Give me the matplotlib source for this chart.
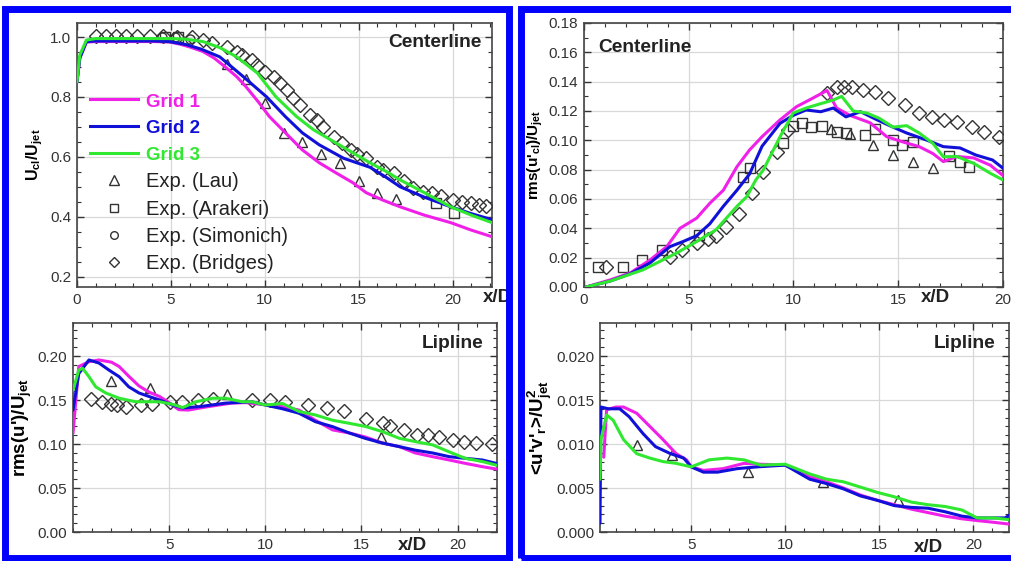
import matplotlib
matplotlib.use("Agg")
import matplotlib.pyplot as plt
from matplotlib.patches import Rectangle
from matplotlib.ticker import MultipleLocator, FixedLocator
from matplotlib.lines import Line2D

plt.rcParams['font.family'] = ['Liberation Sans', 'DejaVu Sans']
plt.rcParams['mathtext.fontset'] = 'custom'
plt.rcParams['mathtext.rm'] = 'Liberation Sans'
plt.rcParams['mathtext.bf'] = 'Liberation Sans:bold'
plt.rcParams['mathtext.it'] = 'Liberation Sans:italic'

C1, C2, C3 = '#f020e8', '#1010d8', '#30e830'
MK = '#333333'

# ---------------- Top-left: centerline mean velocity ----------------
tl_g1_x = [0, 0.15, 0.5, 1, 2, 3, 4, 4.9, 5.5, 6.0, 6.7, 7.3, 7.9, 8.5, 9.0, 9.7, 10.25, 11.1, 12.0, 12.9, 13.8, 14.7, 15.4, 16.3, 17.2, 18.5, 19.9, 21.0, 22.1]
tl_g1_y = [0.85, 0.93, 0.983, 0.985, 0.985, 0.985, 0.985, 0.984, 0.976, 0.967, 0.952, 0.93, 0.90, 0.868, 0.834, 0.78, 0.734, 0.68, 0.623, 0.58, 0.546, 0.513, 0.48, 0.455, 0.433, 0.405, 0.38, 0.355, 0.333]
tl_g2_x = [0, 0.15, 0.5, 1, 2, 3, 4, 4.9, 5.8, 6.6, 7.6, 8.85, 10.1, 11.1, 12.0, 12.9, 14.2, 15.6, 16.5, 17.2, 18.5, 19.9, 21.0, 22.1]
tl_g2_y = [0.85, 0.93, 0.985, 0.987, 0.987, 0.987, 0.987, 0.985, 0.975, 0.96, 0.934, 0.868, 0.80, 0.734, 0.68, 0.64, 0.595, 0.565, 0.53, 0.50, 0.465, 0.433, 0.41, 0.39]
tl_g3_x = [0, 0.15, 0.5, 1, 2, 3, 4, 5, 5.8, 6.7, 7.6, 8.5, 9.6, 10.6, 11.7, 12.6, 13.8, 15.6, 16.5, 17.2, 18.5, 19.9, 21.0, 22.1]
tl_g3_y = [0.85, 0.94, 0.99, 0.995, 0.995, 0.995, 0.995, 0.995, 0.993, 0.985, 0.965, 0.934, 0.88, 0.80, 0.734, 0.69, 0.646, 0.58, 0.55, 0.523, 0.48, 0.433, 0.405, 0.38]
tl_lau_x = [8, 9, 10, 11, 12, 13, 14, 15, 16, 17]
tl_lau_y = [0.91, 0.86, 0.78, 0.68, 0.65, 0.61, 0.58, 0.52, 0.48, 0.46]
tl_ara_x = [4.7, 5.4, 19.1, 20.1]
tl_ara_y = [1.0, 1.0, 0.447, 0.413]
tl_sim_x = [4.5, 5.2, 6.0]
tl_sim_y = [1.0, 1.0, 0.995]
tl_bri_x = [1.0, 1.55, 2.1, 2.6, 3.2, 3.9, 4.6, 5.3, 6.1, 6.7, 7.2, 8.0, 8.5, 8.8, 9.3, 9.6, 10.0, 10.5, 10.8, 11.2, 11.5, 11.9, 12.4, 12.8, 13.1, 13.7, 14.1, 14.6, 14.9, 15.4, 16.0, 16.3, 16.9, 17.4, 17.9, 18.4, 18.9, 19.4, 20.0, 20.5, 21.0, 21.4, 21.8]
tl_bri_y = [1.005, 1.005, 1.005, 1.005, 1.005, 1.005, 1.005, 1.0, 1.0, 0.99, 0.98, 0.968, 0.95, 0.94, 0.923, 0.907, 0.884, 0.868, 0.847, 0.823, 0.797, 0.773, 0.74, 0.723, 0.70, 0.667, 0.646, 0.623, 0.61, 0.597, 0.567, 0.557, 0.547, 0.518, 0.497, 0.484, 0.48, 0.468, 0.457, 0.45, 0.447, 0.44, 0.434]

# ---------------- Top-right: centerline rms ----------------
tr_g1_x = [0.1, 1.24, 2.2, 3.15, 3.95, 4.58, 5.38, 6.0, 6.65, 7.3, 7.9, 8.5, 9.36, 10.15, 10.9, 11.6, 12.06, 12.7, 13.65, 14.45, 15.2, 16.0, 16.65, 17.15, 17.8, 18.6, 19.4, 20.0]
tr_g1_y = [0.0, 0.0048, 0.0095, 0.0184, 0.0275, 0.040, 0.047, 0.057, 0.066, 0.082, 0.0934, 0.1025, 0.114, 0.123, 0.1286, 0.134, 0.122, 0.117, 0.112, 0.1025, 0.099, 0.0957, 0.091, 0.0855, 0.089, 0.088, 0.083, 0.076]
tr_g2_x = [0.1, 1.24, 2.2, 3.15, 4.1, 4.73, 5.38, 6.0, 6.65, 7.3, 7.9, 8.5, 9.36, 9.98, 10.6, 11.3, 11.9, 12.5, 13.2, 14.0, 14.75, 15.4, 16.35, 17.15, 17.95, 18.7, 19.5, 20.0]
tr_g2_y = [0.0, 0.004, 0.009, 0.0164, 0.0275, 0.031, 0.035, 0.043, 0.055, 0.066, 0.077, 0.096, 0.1116, 0.117, 0.1207, 0.1195, 0.122, 0.116, 0.1195, 0.1139, 0.109, 0.105, 0.1002, 0.0957, 0.0948, 0.09, 0.0866, 0.081]
tr_g3_x = [0.1, 1.24, 2.8, 4.4, 5.38, 6.3, 7.3, 7.77, 8.2, 8.56, 9.36, 9.98, 10.6, 11.3, 11.9, 12.3, 12.85, 13.5, 14.1, 14.75, 15.4, 16.0, 16.65, 17.15, 17.8, 18.6, 19.4, 20.0]
tr_g3_y = [0.0, 0.004, 0.0116, 0.023, 0.031, 0.039, 0.055, 0.0616, 0.073, 0.0798, 0.1025, 0.1186, 0.122, 0.125, 0.1275, 0.130, 0.120, 0.1186, 0.115, 0.109, 0.110, 0.105, 0.098, 0.0888, 0.089, 0.0843, 0.0775, 0.073]
tr_lau_x = [11.8, 12.7, 13.8, 14.75, 15.7, 16.65]
tr_lau_y = [0.108, 0.104, 0.097, 0.090, 0.085, 0.081]
tr_ara_x = [0.67, 1.86, 2.75, 3.7, 5.5, 7.6, 7.9, 9.5, 9.98, 10.4, 10.85, 11.35, 12.06, 12.5, 13.4, 13.9, 14.75, 15.2, 15.7, 17.4, 17.95, 18.4]
tr_ara_y = [0.0139, 0.0139, 0.0184, 0.025, 0.0355, 0.075, 0.081, 0.098, 0.110, 0.1116, 0.109, 0.110, 0.106, 0.105, 0.1036, 0.108, 0.1002, 0.097, 0.099, 0.089, 0.0855, 0.082]
tr_bri_x = [1.05, 4.1, 4.7, 5.4, 5.9, 6.3, 6.8, 7.4, 8.0, 8.56, 9.2, 9.75, 11.6, 12.06, 12.4, 12.8, 13.3, 13.9, 14.5, 15.3, 16.0, 16.6, 17.2, 17.8, 18.5, 19.1, 19.8]
tr_bri_y = [0.0135, 0.0207, 0.025, 0.030, 0.033, 0.035, 0.041, 0.050, 0.064, 0.0786, 0.0923, 0.107, 0.132, 0.1366, 0.1366, 0.1366, 0.134, 0.133, 0.1286, 0.124, 0.1186, 0.116, 0.1139, 0.1127, 0.109, 0.106, 0.1025]

# ---------------- Bottom-left: lipline rms ----------------
bl_g1_x = [0, 0.3, 0.83, 1.35, 2.0, 2.4, 2.9, 3.43, 3.95, 4.5, 5.0, 5.5, 6.0, 6.9, 8.25, 9.0, 10.0, 10.9, 11.75, 12.6, 13.5, 14.37, 15.2, 16.1, 16.97, 17.8, 18.7, 19.57, 20.4, 21.3, 22.0]
bl_g1_y = [0.112, 0.188, 0.1935, 0.1955, 0.193, 0.188, 0.177, 0.166, 0.159, 0.154, 0.147, 0.139, 0.1386, 0.142, 0.1465, 0.147, 0.1445, 0.1424, 0.1386, 0.127, 0.116, 0.1125, 0.108, 0.101, 0.097, 0.0898, 0.0856, 0.0818, 0.078, 0.0742, 0.0716]
bl_g2_x = [0, 0.3, 0.83, 1.35, 1.87, 2.4, 2.9, 3.43, 3.95, 4.5, 5.2, 5.7, 6.6, 7.95, 9.3, 10.0, 10.9, 11.75, 12.6, 13.5, 14.37, 15.2, 16.1, 16.97, 17.8, 18.7, 19.57, 20.4, 21.3, 22.0]
bl_g2_y = [0.1386, 0.18, 0.1955, 0.192, 0.184, 0.1765, 0.165, 0.158, 0.154, 0.15, 0.144, 0.141, 0.1425, 0.1465, 0.148, 0.1443, 0.140, 0.135, 0.1254, 0.1197, 0.1125, 0.1064, 0.101, 0.097, 0.093, 0.0898, 0.0856, 0.0837, 0.0818, 0.078]
bl_g3_x = [0, 0.3, 0.5, 0.83, 1.18, 1.7, 2.4, 3.26, 4.5, 5.2, 5.7, 6.4, 7.26, 7.95, 8.8, 9.3, 10.0, 10.9, 11.75, 12.6, 13.5, 14.37, 15.2, 16.1, 16.97, 17.8, 18.7, 19.57, 20.4, 21.3, 22.0]
bl_g3_y = [0.161, 0.184, 0.186, 0.1765, 0.165, 0.158, 0.152, 0.148, 0.148, 0.145, 0.1414, 0.148, 0.152, 0.152, 0.148, 0.148, 0.1443, 0.146, 0.137, 0.133, 0.127, 0.1235, 0.12, 0.114, 0.1065, 0.1027, 0.099, 0.091, 0.0837, 0.080, 0.076]
bl_lau_x = [2, 4, 8, 16]
bl_lau_y = [0.172, 0.164, 0.157, 0.108]
bl_bri_x = [0.95, 1.52, 1.96, 2.3, 2.74, 3.55, 4.1, 5.05, 5.65, 6.5, 7.3, 9.3, 10.27, 11.05, 12.2, 13.2, 14.1, 15.25, 16.1, 16.5, 17.2, 17.9, 18.45, 19.05, 19.74, 20.35, 20.96, 21.8]
bl_bri_y = [0.151, 0.148, 0.146, 0.144, 0.1417, 0.144, 0.146, 0.148, 0.148, 0.15, 0.151, 0.15, 0.15, 0.148, 0.144, 0.1405, 0.137, 0.128, 0.1235, 0.12, 0.116, 0.11, 0.11, 0.108, 0.1045, 0.1026, 0.1015, 0.0996]

# ---------------- Bottom-right: lipline shear stress ----------------
br_g1_x = [0.35, 0.5, 1.0, 1.4, 2.1, 2.8, 3.5, 4.2, 4.75, 5.0, 5.65, 6.7, 7.8, 8.7, 10.0, 11.3, 12.2, 13.1, 14.0, 14.9, 15.8, 16.7, 17.6, 18.5, 19.4, 20.2, 21.1, 21.9]
br_g1_y = [0.0085, 0.0139, 0.0142, 0.0142, 0.0135, 0.012, 0.0105, 0.0089, 0.0082, 0.0074, 0.007, 0.0072, 0.0078, 0.0077, 0.0076, 0.0063, 0.0057, 0.005, 0.0042, 0.0036, 0.0031, 0.0026, 0.0022, 0.0018, 0.0015, 0.0013, 0.0011, 0.0009]
br_g2_x = [0.15, 0.2, 0.6, 1.2, 1.7, 2.43, 3.1, 3.9, 4.6, 5.0, 5.65, 6.4, 7.45, 8.5, 10.0, 11.3, 12.2, 13.1, 14.0, 14.9, 15.8, 16.7, 17.6, 18.5, 19.4, 20.2, 21.1, 21.7, 21.9]
br_g2_y = [0.001, 0.0142, 0.014, 0.014, 0.0131, 0.0112, 0.0097, 0.0089, 0.0084, 0.0074, 0.0068, 0.0068, 0.0072, 0.0074, 0.0076, 0.006, 0.0055, 0.0049, 0.0041, 0.0036, 0.003, 0.0028, 0.0027, 0.0023, 0.0018, 0.0016, 0.0016, 0.0016, 0.0019]
br_g3_x = [0.15, 0.2, 0.5, 0.85, 1.4, 2.1, 2.8, 3.5, 4.2, 5.0, 5.95, 6.9, 7.8, 8.7, 10.0, 11.3, 12.2, 13.1, 14.0, 14.9, 15.8, 16.7, 17.6, 18.5, 19.4, 20.2, 21.1, 21.9]
br_g3_y = [0.006, 0.0105, 0.0133, 0.0127, 0.0105, 0.0089, 0.0084, 0.008, 0.0078, 0.0074, 0.0082, 0.0084, 0.0082, 0.0076, 0.0077, 0.0066, 0.006, 0.0057, 0.0051, 0.0045, 0.004, 0.0034, 0.0031, 0.0029, 0.0025, 0.0016, 0.0016, 0.0014]
br_lau_x = [2.1, 4.0, 8.0, 12.0, 16.0]
br_lau_y = [0.0099, 0.0087, 0.0068, 0.0057, 0.0036]

legend_labels = ['Grid 1', 'Grid 2', 'Grid 3', 'Exp. (Lau)', 'Exp. (Arakeri)', 'Exp. (Simonich)', 'Exp. (Bridges)']

W, H = 1012, 561
fig = plt.figure(figsize=(W / 100, H / 100), dpi=100)


def add_ax(l, r, t, b):
    return fig.add_axes([l / W, (H - b) / H, (r - l) / W, (b - t) / H])


ax_tl = add_ax(77, 492, 23, 287)
ax_tr = add_ax(584, 1003, 23, 287)
ax_bl = add_ax(73, 497, 323, 532)
ax_br = add_ax(600, 1009, 323, 532)

LW = 2.2


def lines(ax, g1, g2, g3):
    ax.plot(*g1, color=C1, lw=LW, zorder=4, solid_capstyle='round')
    ax.plot(*g2, color=C2, lw=LW, zorder=5, solid_capstyle='round')
    ax.plot(*g3, color=C3, lw=LW, zorder=6, solid_capstyle='round')


def marks(ax, x, y, m, ms):
    ax.plot(x, y, ls='none', marker=m, mfc='none', mec=MK, ms=ms, mew=1.0, zorder=3)


def style(ax, xlim, ylim, xmin, ymaj, ymin, xticks, yfmt):
    ax.set_xlim(*xlim)
    ax.set_ylim(*ylim)
    ax.xaxis.set_major_locator(FixedLocator(xticks))
    ax.xaxis.set_minor_locator(MultipleLocator(xmin))
    ax.yaxis.set_major_locator(MultipleLocator(ymaj))
    ax.yaxis.set_minor_locator(MultipleLocator(ymin))
    ax.yaxis.set_major_formatter(plt.FormatStrFormatter(yfmt))
    ax.tick_params(which='both', direction='in', top=True, right=True, colors='#333333',
                   labelsize=11, labelcolor='#333333')
    ax.tick_params(which='major', length=5, width=1.0, pad=4)
    ax.tick_params(which='minor', length=3, width=0.8)
    ax.grid(True, which='major', color='#d8d8d8', lw=0.9, zorder=0)
    ax.set_axisbelow(True)
    for s in ax.spines.values():
        s.set_color('#444444')
        s.set_linewidth(1.2)


ANN = 13.8

# Top-left
lines(ax_tl, (tl_g1_x, tl_g1_y), (tl_g2_x, tl_g2_y), (tl_g3_x, tl_g3_y))
marks(ax_tl, tl_lau_x, tl_lau_y, '^', 7.5)
marks(ax_tl, tl_ara_x, tl_ara_y, 's', 6.5)
marks(ax_tl, tl_sim_x, tl_sim_y, 'o', 6.5)
marks(ax_tl, tl_bri_x, tl_bri_y, 'D', 7)
style(ax_tl, (0, 22.1), (0.165, 1.047), 1, 0.2, 0.05, [0, 5, 10, 15, 20], '%.1f')
ax_tl.set_ylabel(r"U$_{\mathbf{cl}}$/U$_{\mathbf{jet}}$", fontsize=11.5, fontweight='bold', labelpad=4)
ax_tl.text(0.976, 0.928, 'Centerline', transform=ax_tl.transAxes, ha='right', va='center',
           fontsize=ANN, fontweight='bold', color='#222222')

handles = [Line2D([], [], color=C1, lw=LW), Line2D([], [], color=C2, lw=LW), Line2D([], [], color=C3, lw=LW),
           Line2D([], [], ls='none', marker='^', mfc='none', mec=MK, ms=6.5),
           Line2D([], [], ls='none', marker='s', mfc='none', mec=MK, ms=5.5),
           Line2D([], [], ls='none', marker='o', mfc='none', mec=MK, ms=5.5),
           Line2D([], [], ls='none', marker='D', mfc='none', mec=MK, ms=5.5)]
leg = ax_tl.legend(handles, legend_labels, loc='upper left', bbox_to_anchor=(0.031, 0.737),
                   frameon=False, fontsize=14.5, handlelength=2.4, handletextpad=0.4,
                   labelspacing=0.42, borderpad=0, borderaxespad=0)
for t, c in zip(leg.get_texts(), [C1, C2, C3, '#222222', '#222222', '#222222', '#222222']):
    t.set_color(c)
for t in leg.get_texts()[:3]:
    t.set_fontweight('bold')
    t.set_fontsize(13.5)

# Top-right
lines(ax_tr, (tr_g1_x, tr_g1_y), (tr_g2_x, tr_g2_y), (tr_g3_x, tr_g3_y))
marks(ax_tr, tr_lau_x, tr_lau_y, '^', 7.5)
marks(ax_tr, tr_ara_x, tr_ara_y, 's', 7)
marks(ax_tr, tr_bri_x, tr_bri_y, 'D', 7)
style(ax_tr, (0, 20), (0, 0.18), 1, 0.02, 0.01, [0, 5, 10, 15, 20], '%.2f')
ax_tr.set_ylabel(r"rms(u'$_{\mathbf{cl}}$)/U$_{\mathbf{jet}}$", fontsize=11, fontweight='bold', labelpad=3)
ax_tr.text(0.033, 0.909, 'Centerline', transform=ax_tr.transAxes, ha='left', va='center',
           fontsize=ANN, fontweight='bold', color='#222222')

# Bottom-left
lines(ax_bl, (bl_g1_x, bl_g1_y), (bl_g2_x, bl_g2_y), (bl_g3_x, bl_g3_y))
marks(ax_bl, bl_lau_x, bl_lau_y, '^', 7.5)
marks(ax_bl, bl_bri_x, bl_bri_y, 'D', 7)
style(ax_bl, (0, 22.05), (0, 0.2375), 1, 0.05, 0.01, [5, 10, 15, 20], '%.2f')
ax_bl.set_ylabel(r"rms(u')/U$_{\mathbf{jet}}$", fontsize=13.5, fontweight='bold', labelpad=3)
ax_bl.text(0.967, 0.904, 'Lipline', transform=ax_bl.transAxes, ha='right', va='center',
           fontsize=ANN, fontweight='bold', color='#222222')

# Bottom-right
lines(ax_br, (br_g1_x, br_g1_y), (br_g2_x, br_g2_y), (br_g3_x, br_g3_y))
marks(ax_br, br_lau_x, br_lau_y, '^', 7.5)
style(ax_br, (0.15, 21.9), (0, 0.02375), 1, 0.005, 0.001, [5, 10, 15, 20], '%.3f')
ax_br.set_ylabel(r"<u'v'$_{\mathbf{r}}$>/U$_{\mathbf{jet}}^{\mathbf{2}}$", fontsize=13.5, fontweight='bold', labelpad=2)
ax_br.text(0.968, 0.904, 'Lipline', transform=ax_br.transAxes, ha='right', va='center',
           fontsize=ANN, fontweight='bold', color='#222222')

# x/D labels
for (px, py) in [(497, 298), (935, 298), (412, 545), (928, 547)]:
    fig.text(px / W, (H - py) / H, 'x/D', ha='center', va='center', fontsize=13.5,
             fontweight='bold', color='#222222')

# blue panel borders
for (l, r) in [(5.5, 509.5), (521.5, 1016)]:
    t, b = 8.5, 557.5
    fig.patches.append(Rectangle((l / W, (H - b) / H), (r - l) / W, (b - t) / H,
                                 transform=fig.transFigure, fill=False, edgecolor='#0000ff',
                                 linewidth=5, zorder=10, clip_on=False))

fig.savefig('out.png', dpi=100)
